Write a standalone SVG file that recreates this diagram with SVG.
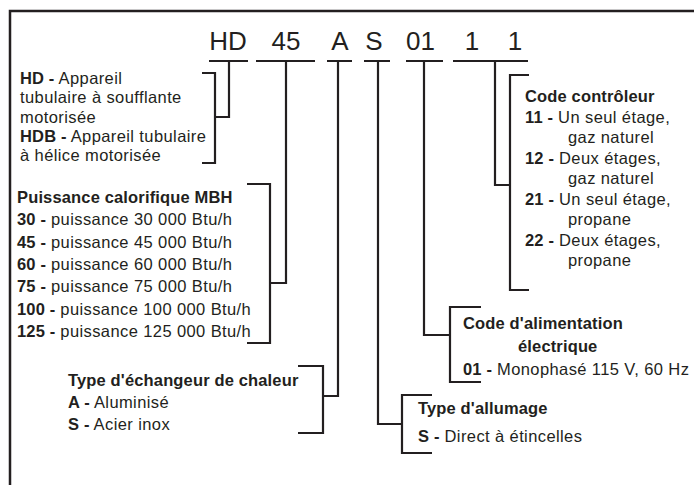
<svg xmlns="http://www.w3.org/2000/svg" width="694" height="485" viewBox="0 0 694 485">
<style>
text{font-family:"Liberation Sans",Arial,sans-serif;fill:#231f20;font-size:16.5px;letter-spacing:0.4px}
.code{font-size:26px;text-anchor:middle;letter-spacing:0}
.b{font-weight:bold;letter-spacing:0.15px}
.ln{fill:none;stroke:#231f20;stroke-width:2.2}
</style>
<rect width="694" height="485" fill="#fff"/>
<g id="connectors" class="ln">
<path d="M10,485 V11 H694" stroke-width="2.5"/>
<path d="M209,61 H248 M256,61 H315 M327,61 H352 M364,61 H390 M406,61 H443 M453,61 H528"/>
<path d="M229,61 V117 H215 M202,73 H215 V163 H202"/>
<path d="M286,61 V283 H270 M247,184 H270 V343 H247"/>
<path d="M338,61 V396 H323 M298,366 H323 V433 H298"/>
<path d="M378,61 V424 H402 M432,395 H402 V453 H432"/>
<path d="M424,61 V335 H450 M481,307 H450 V382 H481"/>
<path d="M495,61 V185 H510 M529,75 H510 V290 H529"/>
</g>
<g id="code">
<text class="code" x="228" y="50">HD</text>
<text class="code" x="286" y="50">45</text>
<text class="code" x="340" y="50">A</text>
<text class="code" x="374" y="50">S</text>
<text class="code" x="420.5" y="50">01</text>
<text class="code" x="472" y="50">1</text>
<text class="code" x="515" y="50">1</text>
</g>
<g id="type-appareil">
<text x="20" y="84"><tspan class="b">HD -</tspan> Appareil</text>
<text x="20" y="103.3">tubulaire à soufflante</text>
<text x="20" y="122.6">motorisée</text>
<text x="20" y="141.9"><tspan class="b">HDB -</tspan> Appareil tubulaire</text>
<text x="20" y="161.2">à hélice motorisée</text>
</g>
<g id="puissance">
<text x="17" y="203" class="b">Puissance calorifique MBH</text>
<text x="17" y="225.3"><tspan class="b">30 -</tspan> puissance 30 000 Btu/h</text>
<text x="17" y="247.6"><tspan class="b">45 -</tspan> puissance 45 000 Btu/h</text>
<text x="17" y="269.9"><tspan class="b">60 -</tspan> puissance 60 000 Btu/h</text>
<text x="17" y="292.2"><tspan class="b">75 -</tspan> puissance 75 000 Btu/h</text>
<text x="17" y="314.5"><tspan class="b">100 -</tspan> puissance 100 000 Btu/h</text>
<text x="17" y="336.8"><tspan class="b">125 -</tspan> puissance 125 000 Btu/h</text>
</g>
<g id="echangeur">
<text x="68" y="386" class="b">Type d'échangeur de chaleur</text>
<text x="68" y="408"><tspan class="b">A -</tspan> Aluminisé</text>
<text x="68" y="430"><tspan class="b">S -</tspan> Acier inox</text>
</g>
<g id="allumage">
<text x="418" y="414" class="b">Type d'allumage</text>
<text x="418" y="442"><tspan class="b">S -</tspan> Direct à étincelles</text>
</g>
<g id="alimentation">
<text x="463" y="329" class="b">Code d'alimentation</text>
<text x="518" y="352" class="b">électrique</text>
<text x="463" y="375"><tspan class="b">01 -</tspan> Monophasé 115 V, 60 Hz</text>
</g>
<g id="controleur">
<text x="525" y="102" class="b">Code contrôleur</text>
<text x="525" y="122.5"><tspan class="b">11 -</tspan> Un seul étage,</text>
<text x="568" y="143">gaz naturel</text>
<text x="525" y="163.5"><tspan class="b">12 -</tspan> Deux étages,</text>
<text x="568" y="184">gaz naturel</text>
<text x="525" y="204.5"><tspan class="b">21 -</tspan> Un seul étage,</text>
<text x="568" y="225">propane</text>
<text x="525" y="245.5"><tspan class="b">22 -</tspan> Deux étages,</text>
<text x="568" y="266">propane</text>
</g>
</svg>
